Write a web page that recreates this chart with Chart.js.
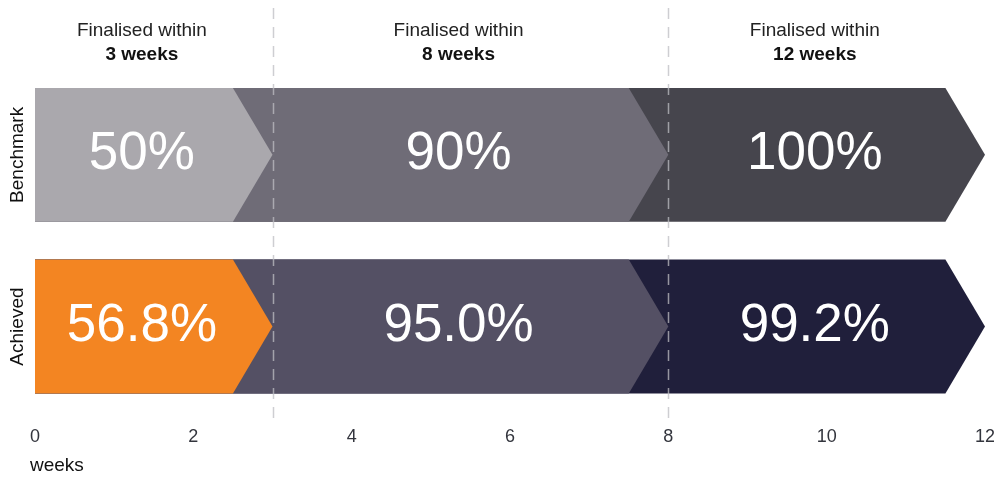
<!DOCTYPE html>
<html>
<head>
<meta charset="utf-8">
<script src="https://cdn.jsdelivr.net/npm/chart.js@4"></script>
<style>
  html, body { margin: 0; padding: 0; background: #fff; }
  #wrap { width: 994px; height: 478px; position: relative; }
</style>
</head>
<body>
<div id="wrap"><canvas id="weeks_chart"></canvas></div>
<script>
const rows = ['Benchmark', 'Achieved'];
const periods = [3, 8, 12];
const benchmark = [50, 90, 100];
const achieved = [56.8, 95.0, 99.2];
const rowDecimals = [0, 1];

const benchmarkColors = ['#aaa8ad', '#6f6c77', '#46454d'];
const achievedColors = ['#f38522', '#545064', '#201f3b'];

const FONT = "'Liberation Sans', Arial, sans-serif";
const TIP = 0.5; // chevron point depth, in weeks

const values = [benchmark, achieved];

// chevrons + labels drawn on top of the library's bar geometry
const chevrons = {
    id: 'chevrons',
    beforeDatasetsDraw(chart) {
        const ctx = chart.ctx;
        const x = chart.scales.x;
        const tip = x.getPixelForValue(TIP) - x.getPixelForValue(0);
        ctx.save();
        for (let d = chart.data.datasets.length - 1; d >= 0; d--) {
            chart.getDatasetMeta(d).data.forEach(bar => {
                const top = bar.y - bar.height / 2;
                const bottom = bar.y + bar.height / 2;
                ctx.beginPath();
                ctx.moveTo(bar.base, top);
                ctx.lineTo(bar.x - tip, top);
                ctx.lineTo(bar.x, bar.y);
                ctx.lineTo(bar.x - tip, bottom);
                ctx.lineTo(bar.base, bottom);
                ctx.closePath();
                ctx.fillStyle = bar.options.backgroundColor;
                ctx.fill();
            });
        }
        ctx.restore();
        return false;
    },
    afterDraw(chart) {
        const ctx = chart.ctx;
        const x = chart.scales.x;
        const y = chart.scales.y;
        ctx.save();

        // dashed period lines
        ctx.strokeStyle = 'rgba(190,190,195,0.75)';
        ctx.lineWidth = 1.5;
        ctx.setLineDash([11, 8]);
        periods.slice(0, -1).forEach(p => {
            const px = Math.round(x.getPixelForValue(p)) + 0.5;
            ctx.beginPath();
            ctx.moveTo(px, 8);
            ctx.lineTo(px, 423);
            ctx.stroke();
        });
        ctx.setLineDash([]);

        // percentages and headers
        ctx.textAlign = 'center';
        ctx.textBaseline = 'middle';
        periods.forEach((p, i) => {
            const start = i === 0 ? 0 : periods[i - 1];
            const cx = x.getPixelForValue((start + p) / 2 - 0.15);

            ctx.fillStyle = '#222';
            ctx.font = '19px ' + FONT;
            ctx.fillText('Finalised within', cx, 31);
            ctx.fillStyle = '#111';
            ctx.font = 'bold 19px ' + FONT;
            ctx.fillText(p + ' weeks', cx, 55);

            ctx.fillStyle = '#fff';
            ctx.font = '53px ' + FONT;
            rows.forEach((r, ri) => {
                const cy = y.getPixelForValue(ri);
                ctx.fillText(values[ri][i].toFixed(rowDecimals[ri]) + '%', cx, cy);
            });
        });

        // row labels
        ctx.fillStyle = '#111';
        ctx.font = '19px ' + FONT;
        rows.forEach((r, ri) => {
            ctx.save();
            ctx.translate(18, y.getPixelForValue(ri));
            ctx.rotate(-Math.PI / 2);
            ctx.fillText(r, 0, 0);
            ctx.restore();
        });

        // axis unit
        ctx.textAlign = 'left';
        ctx.fillText('weeks', 30, 466);
        ctx.restore();
    }
};

const weeks_chart = document.getElementById('weeks_chart').getContext('2d');

new Chart(weeks_chart, {
    type: 'bar',
    data: {
        labels: rows,
        datasets: periods.map((p, i) => ({
            label: p + ' weeks',
            data: rows.map(() => p),
            grouped: false,
            backgroundColor: [benchmarkColors[i], achievedColors[i]]
        }))
    },
    options: {
        indexAxis: 'y',
        responsive: true,
        maintainAspectRatio: false,
        animation: false,
        layout: {
            padding: { left: 35, right: 9, top: 69, bottom: 16 }
        },
        datasets: {
            bar: { barPercentage: 0.78, categoryPercentage: 1 }
        },
        scales: {
            x: {
                min: 0,
                max: 12,
                grid: { display: false, drawTicks: false },
                border: { display: false },
                afterFit(scale) {
                    scale.paddingLeft = 0;
                    scale.paddingRight = 0;
                },
                ticks: {
                    stepSize: 2,
                    padding: 14,
                    color: '#33353d',
                    font: { family: FONT, size: 18 }
                }
            },
            y: {
                display: false
            }
        },
        plugins: {
            legend: { display: false },
            tooltip: { enabled: false }
        }
    },
    plugins: [chevrons]
});
</script>
</body>
</html>
